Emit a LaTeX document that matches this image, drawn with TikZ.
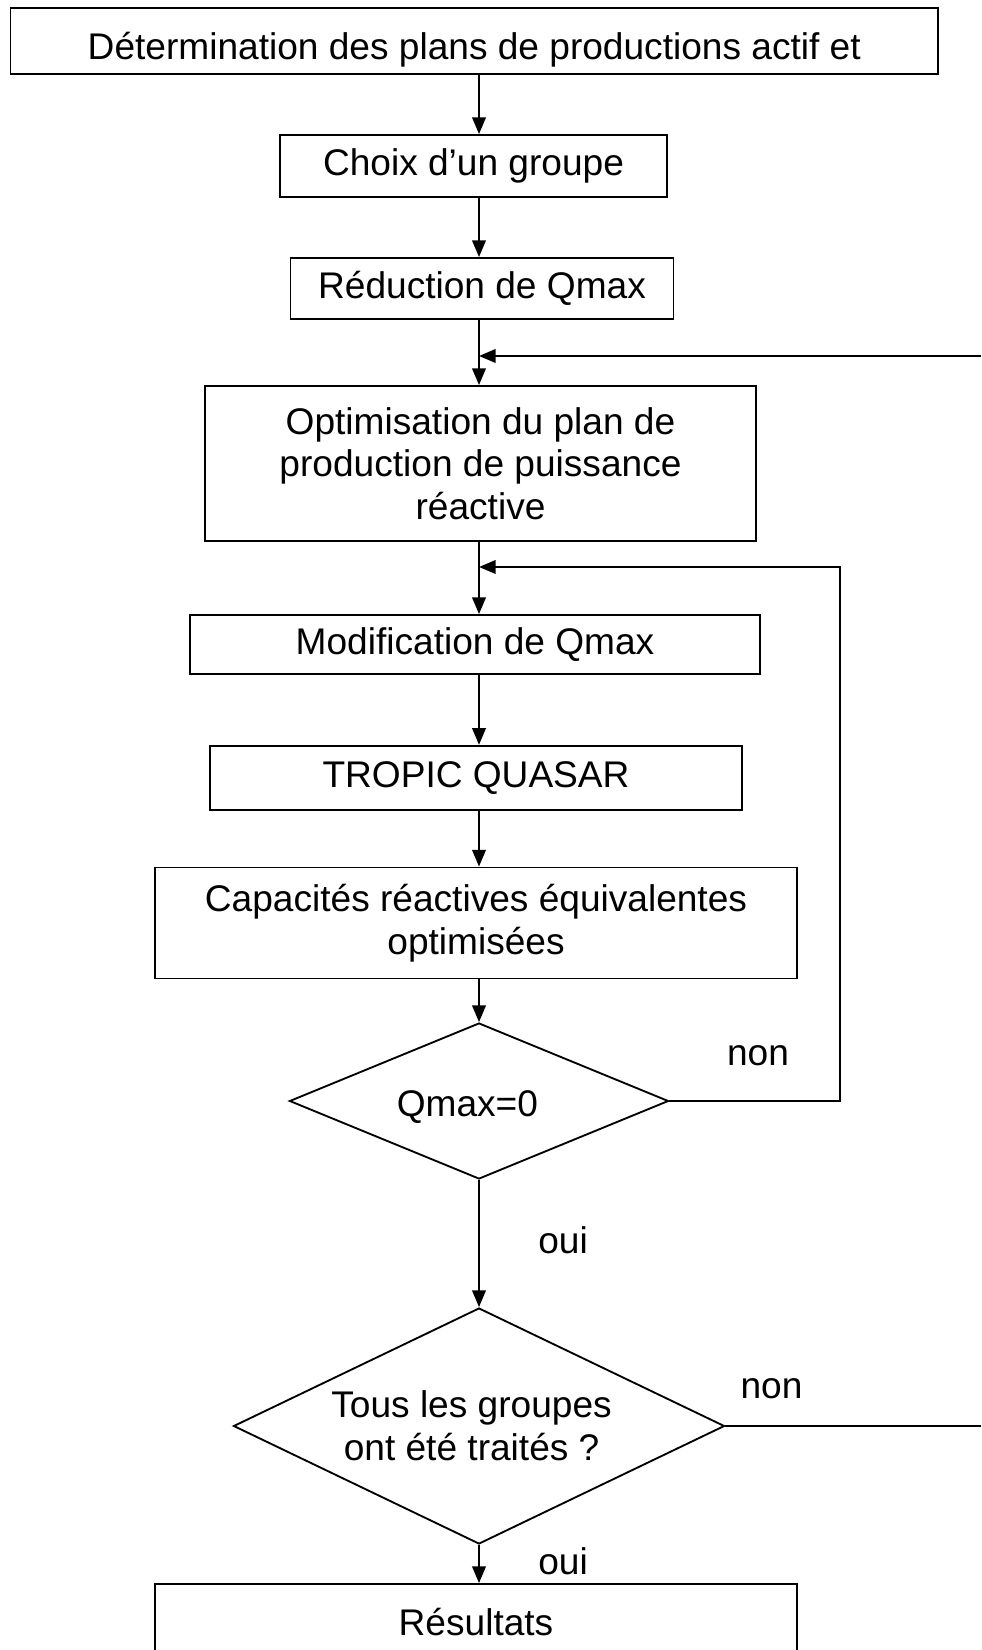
\documentclass[tikz,border=0pt]{standalone}
\usepackage{fontspec}
\setmainfont{Liberation Sans}
\usetikzlibrary{shapes.geometric,arrows.meta}
\begin{document}
\begin{tikzpicture}[x=0.3236pt,y=-0.3236pt,
  font=\fontsize{12}{13.8}\selectfont,
  sz/.style 2 args={minimum width=#1*0.3236pt,minimum height=#2*0.3236pt},
  box/.style={draw,line width=0.6pt,align=center,inner sep=0pt},
  dec/.style={draw,diamond,line width=0.6pt,align=center,inner sep=0pt,aspect=2},
  arr/.style={line width=0.6pt,-{Triangle[width=4.4pt,length=5.4pt]}},
  ln/.style={line width=0.6pt},
  lbl/.style={inner sep=0pt}]
\useasboundingbox (0,0) rectangle (981,1650);
\clip (0,0) rectangle (981,1650);
\coordinate (axis) at (479,0);
\coordinate (loopR) at (840,0);
\coordinate (edge) at (981,0);
\coordinate (fb1) at (479,356);
\coordinate (fb2) at (479,567);

\node[box,sz={927.5}{65.3},text height=15.4pt,text depth=3.2pt] (b1) at (474.25,41) {Détermination des plans de productions actif et};
\node[box,sz={387}{62}] (b2) at (473.5,166) {Choix d’un groupe};
\node[box,sz={383}{61}] (b3) at (482,288.5) {Réduction de Qmax};
\node[box,sz={551}{155}] (b4) at (480.5,463.5) {Optimisation du plan de\\production de puissance\\réactive};
\node[box,sz={569.5}{59}] (b5) at (475,644.5) {Modification de Qmax};
\node[box,sz={531.5}{64.5}] (b6) at (476,778) {TROPIC QUASAR};
\node[box,sz={642}{111}] (b7) at (476,923) {Capacités réactives équivalentes\\optimisées};
\node[dec,sz={379}{156},text height=13.4pt,text depth=3.2pt] (d1) at (479,1101) {Qmax=0\hspace{7.5pt}};
\node[dec,sz={491}{236}] (d2) at (479,1426) {Tous les groupes\rule{4.8pt}{0pt}\\ont été traités ?\rule{4.8pt}{0pt}};
\node[box,sz={642}{76}] (b8) at (476,1622) {Résultats};

\node[lbl] (non1) at (758,1056) {non};
\node[lbl] (oui1) at (563,1240) {oui};
\node[lbl] (non2) at (771.5,1389) {non};
\node[lbl] (oui2) at (563,1561) {oui};

\draw[arr] (b1.south -| axis) -- (b2.north -| axis);
\draw[arr] (b2.south -| axis) -- (b3.north -| axis);
\draw[arr] (b3.south -| axis) -- (b4.north -| axis);
\draw[arr] (b4.south -| axis) -- (b5.north -| axis);
\draw[arr] (b5.south -| axis) -- (b6.north -| axis);
\draw[arr] (b6.south -| axis) -- (b7.north -| axis);
\draw[arr] (b7.south -| axis) -- (d1.north);
\draw[arr] (d1.south) -- (d2.north);
\draw[arr] (d2.south) -- (b8.north -| axis);

\draw[arr] (d1.east) -- (d1.east -| loopR) -- (loopR |- fb2) -- (fb2);
\draw[ln] (d2.east) -- (d2.east -| edge);
\draw[arr] (fb1 -| edge) -- (fb1);
\end{tikzpicture}
\end{document}
